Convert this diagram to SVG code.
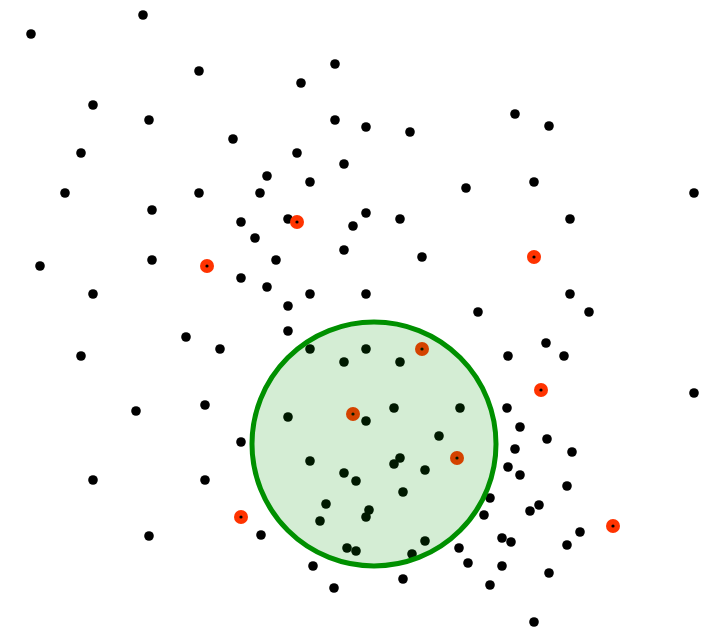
<svg xmlns="http://www.w3.org/2000/svg" width="710" height="627" viewBox="0 0 710 627">
<style>
.p{fill:#000}
.ring{fill:rgb(0,150,0);fill-opacity:0.17;stroke:#009000;stroke-width:5}
</style>
<defs>
<circle id="d" r="4.8"/>
<g id="rd"><circle r="7" fill="#ff3300"/><circle r="1.6" fill="#000"/></g>
</defs>
<rect width="710" height="627" fill="#fff"/>
<g id="points" class="p">
<use href="#d" x="143" y="15"/><use href="#d" x="31" y="34"/><use href="#d" x="199" y="71"/><use href="#d" x="93" y="105"/><use href="#d" x="149" y="120"/><use href="#d" x="233" y="139"/><use href="#d" x="81" y="153"/><use href="#d" x="65" y="193"/><use href="#d" x="199" y="193"/><use href="#d" x="152" y="210"/>
<use href="#d" x="335" y="64"/><use href="#d" x="301" y="83"/><use href="#d" x="335" y="120"/><use href="#d" x="366" y="127"/><use href="#d" x="410" y="132"/><use href="#d" x="297" y="153"/><use href="#d" x="344" y="164"/><use href="#d" x="267" y="176"/><use href="#d" x="310" y="182"/><use href="#d" x="260" y="193"/><use href="#d" x="466" y="188"/><use href="#d" x="366" y="213"/>
<use href="#d" x="515" y="114"/><use href="#d" x="549" y="126"/><use href="#d" x="534" y="182"/><use href="#d" x="694" y="193"/>
<use href="#d" x="241" y="222"/><use href="#d" x="152" y="260"/><use href="#d" x="40" y="266"/><use href="#d" x="241" y="278"/><use href="#d" x="93" y="294"/><use href="#d" x="186" y="337"/><use href="#d" x="220" y="349"/><use href="#d" x="81" y="356"/><use href="#d" x="136" y="411"/><use href="#d" x="205" y="405"/>
<use href="#d" x="288" y="219"/><use href="#d" x="353" y="226"/><use href="#d" x="400" y="219"/><use href="#d" x="255" y="238"/><use href="#d" x="344" y="250"/><use href="#d" x="276" y="260"/><use href="#d" x="422" y="257"/><use href="#d" x="267" y="287"/><use href="#d" x="310" y="294"/><use href="#d" x="366" y="294"/><use href="#d" x="288" y="306"/><use href="#d" x="288" y="331"/><use href="#d" x="478" y="312"/><use href="#d" x="310" y="349"/><use href="#d" x="366" y="349"/><use href="#d" x="344" y="362"/><use href="#d" x="400" y="362"/><use href="#d" x="394" y="408"/><use href="#d" x="460" y="408"/><use href="#d" x="288" y="417"/>
<use href="#d" x="570" y="219"/><use href="#d" x="570" y="294"/><use href="#d" x="589" y="312"/><use href="#d" x="546" y="343"/><use href="#d" x="508" y="356"/><use href="#d" x="564" y="356"/><use href="#d" x="694" y="393"/><use href="#d" x="507" y="408"/>
<use href="#d" x="241" y="442"/><use href="#d" x="93" y="480"/><use href="#d" x="205" y="480"/><use href="#d" x="149" y="536"/>
<use href="#d" x="366" y="421"/><use href="#d" x="439" y="436"/><use href="#d" x="310" y="461"/><use href="#d" x="400" y="458"/><use href="#d" x="394" y="464"/><use href="#d" x="425" y="470"/><use href="#d" x="344" y="473"/><use href="#d" x="356" y="481"/><use href="#d" x="403" y="492"/><use href="#d" x="326" y="504"/><use href="#d" x="369" y="510"/><use href="#d" x="366" y="517"/><use href="#d" x="320" y="521"/><use href="#d" x="261" y="535"/><use href="#d" x="425" y="541"/><use href="#d" x="347" y="548"/><use href="#d" x="356" y="551"/><use href="#d" x="412" y="554"/><use href="#d" x="459" y="548"/><use href="#d" x="468" y="563"/><use href="#d" x="313" y="566"/><use href="#d" x="403" y="579"/><use href="#d" x="334" y="588"/>
<use href="#d" x="520" y="427"/><use href="#d" x="547" y="439"/><use href="#d" x="515" y="449"/><use href="#d" x="572" y="452"/><use href="#d" x="508" y="467"/><use href="#d" x="520" y="475"/><use href="#d" x="567" y="486"/><use href="#d" x="490" y="498"/><use href="#d" x="539" y="505"/><use href="#d" x="530" y="511"/><use href="#d" x="484" y="515"/><use href="#d" x="580" y="532"/><use href="#d" x="502" y="538"/><use href="#d" x="511" y="542"/><use href="#d" x="567" y="545"/><use href="#d" x="502" y="566"/><use href="#d" x="549" y="573"/><use href="#d" x="490" y="585"/><use href="#d" x="534" y="622"/>
</g>
<g id="centers">
<use href="#rd" x="297" y="222"/><use href="#rd" x="207" y="266"/><use href="#rd" x="534" y="257"/><use href="#rd" x="422" y="349"/><use href="#rd" x="353" y="414"/><use href="#rd" x="541" y="390"/><use href="#rd" x="457" y="458"/><use href="#rd" x="241" y="517"/><use href="#rd" x="613" y="526"/>
</g>
<g id="region">
<circle class="ring" cx="374" cy="444" r="122"/>
</g>
</svg>
